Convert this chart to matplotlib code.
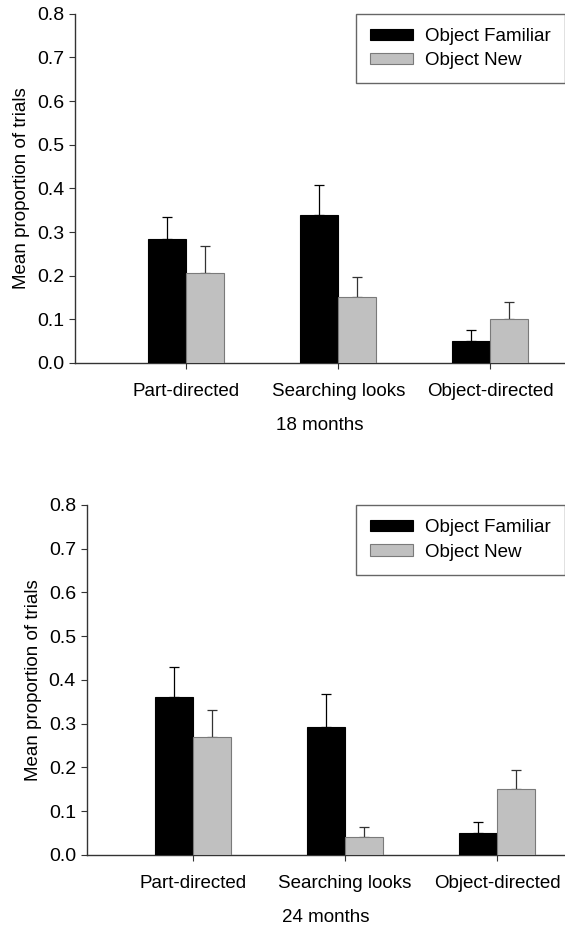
import numpy as np
import matplotlib
matplotlib.use("Agg")
import matplotlib.pyplot as plt

plt.rcParams['font.family'] = ['Liberation Sans', 'DejaVu Sans']

categories = ["Part-directed", "Searching looks", "Object-directed"]
series = ["Object Familiar", "Object New"]

# 18 months
fam_18 = [0.285, 0.340, 0.050]
fam_18_err = [0.050, 0.068, 0.026]
new_18 = [0.205, 0.152, 0.100]
new_18_err = [0.063, 0.046, 0.040]

# 24 months
fam_24 = [0.360, 0.292, 0.050]
fam_24_err = [0.070, 0.076, 0.026]
new_24 = [0.270, 0.040, 0.150]
new_24_err = [0.062, 0.023, 0.045]

yticks = [0.0, 0.1, 0.2, 0.3, 0.4, 0.5, 0.6, 0.7, 0.8]


def draw_panel(ax, fam, fam_err, new, new_err, xlabel, xlim):
    x = np.arange(1, len(categories) + 1)
    w = 0.25
    ax.bar(x - w / 2, fam, w, color="black", edgecolor="black", linewidth=0.8,
           label=series[0], zorder=3)
    ax.bar(x + w / 2, new, w, color="#c0c0c0", edgecolor="#7a7a7a", linewidth=0.8,
           label=series[1], zorder=3)
    ax.errorbar(x - w / 2, fam, yerr=[np.zeros(len(fam)), fam_err], fmt="none",
                ecolor="black", elinewidth=0.9, capsize=3.5, capthick=0.9, zorder=2)
    ax.errorbar(x + w / 2, new, yerr=[np.zeros(len(new)), new_err], fmt="none",
                ecolor="#333333", elinewidth=0.9, capsize=3.5, capthick=0.9, zorder=2)

    ax.set_xlim(*xlim)
    ax.set_ylim(0, 0.8)
    ax.set_yticks(yticks)
    ax.set_yticklabels([f"{v:.1f}" for v in yticks], fontsize=14)
    ax.set_xticks(x)
    ax.set_xticklabels(categories, fontsize=13.5)
    ax.tick_params(axis="x", length=4, pad=10.5, color="#333333")
    ax.tick_params(axis="y", length=4, pad=4, color="#333333")
    ax.set_ylabel("Mean proportion of trials", fontsize=13.5, labelpad=5)
    ax.set_xlabel(xlabel, fontsize=13.5, labelpad=12)
    for s in ["top", "right"]:
        ax.spines[s].set_visible(False)
    for s in ["left", "bottom"]:
        ax.spines[s].set_color("#333333")
        ax.spines[s].set_linewidth(1.0)

    leg = ax.legend(loc="upper right", bbox_to_anchor=(1.0, 1.0), fontsize=13.5,
                    fancybox=False, framealpha=1, edgecolor="#666666",
                    handlelength=2.3, handleheight=0.55, handletextpad=0.65,
                    borderpad=0.75, labelspacing=0.4, borderaxespad=0.0)
    leg.get_frame().set_linewidth(1.0)


fig = plt.figure(figsize=(5.65, 9.25), dpi=100)

ax1 = fig.add_axes([0.133, 0.6076, 0.867, 0.3775])
draw_panel(ax1, fam_18, fam_18_err, new_18, new_18_err, "18 months", (0.27, 3.49))

ax2 = fig.add_axes([0.154, 0.0757, 0.846, 0.3784])
draw_panel(ax2, fam_24, fam_24_err, new_24, new_24_err, "24 months", (0.303, 3.447))

fig.savefig("out.png", dpi=100)
